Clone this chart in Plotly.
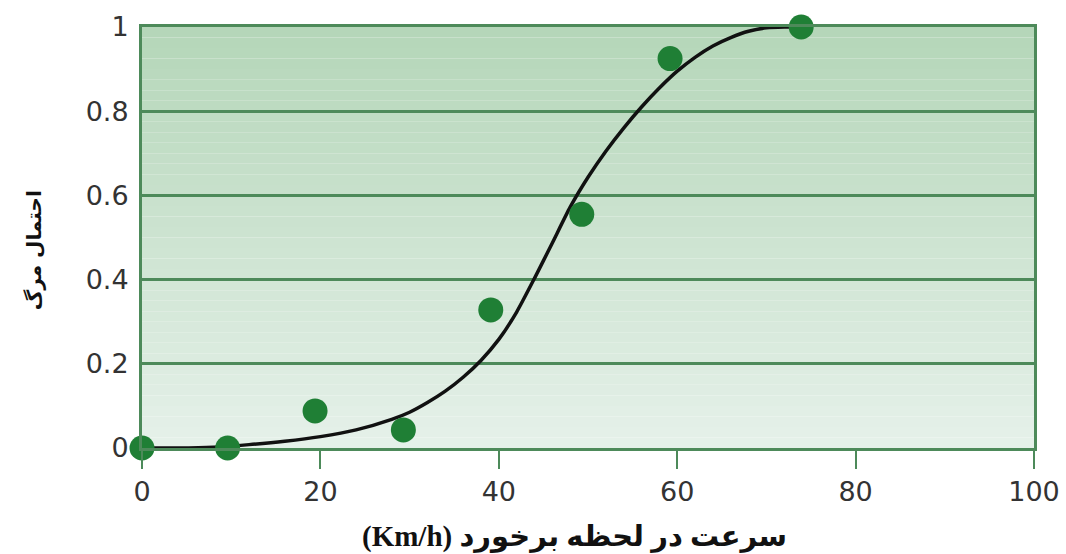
import plotly.graph_objects as go

# Observed data points (speed km/h, probability of death)
speed_pts = [0, 9.6, 19.4, 29.3, 39.1, 49.3, 59.2, 73.9]
prob_pts = [0.0, 0.0, 0.088, 0.043, 0.328, 0.555, 0.925, 1.0]

# Fitted curve
curve_x = [0, 4, 8, 12, 16, 20, 24, 28, 30, 32, 34, 36, 38, 40, 42, 44, 46,
           48, 50, 52, 54, 56, 58, 60, 62, 64, 66, 68, 70, 72, 74]
curve_y = [0.0, 0.0, 0.002, 0.008, 0.016, 0.027, 0.043, 0.068, 0.085,
           0.108, 0.135, 0.168, 0.208, 0.258, 0.323, 0.403, 0.487, 0.572,
           0.643, 0.705, 0.76, 0.81, 0.855, 0.895, 0.928, 0.955, 0.975,
           0.99, 0.998, 1.0, 1.0]

x_ticks = [0, 20, 40, 60, 80, 100]
y_ticks = [0, 0.2, 0.4, 0.6, 0.8, 1]
y_tick_text = ["0", "0.2", "0.4", "0.6", "0.8", "1"]

x_title = "(Km/h) سرعت در لحظه برخورد"
y_title = "احتمال مرگ"

GREEN_LINE = "#4d8a5a"

fig = go.Figure()

fig.add_trace(go.Scatter(
    x=curve_x, y=curve_y, mode="lines",
    line=dict(color="#111111", width=3.5, shape="spline", smoothing=0.6),
    cliponaxis=False, hoverinfo="skip", showlegend=False))

fig.add_trace(go.Scatter(
    x=speed_pts, y=prob_pts, mode="markers",
    marker=dict(color="#1f7f35", size=25, line=dict(width=0)),
    cliponaxis=False, showlegend=False))

# vertical gradient background of the plot area
n = 40
top = (180, 214, 184)
bot = (230, 241, 234)
shapes = []
for i in range(n):
    t = (i + 0.5) / n
    c = tuple(round(bot[k] + (top[k] - bot[k]) * t) for k in range(3))
    shapes.append(dict(type="rect", xref="paper", yref="paper",
                       x0=0, x1=1, y0=i / n, y1=(i + 1) / n,
                       fillcolor="rgb(%d,%d,%d)" % c, line=dict(width=0),
                       layer="below"))

fig.update_layout(
    width=1066, height=554,
    margin=dict(l=142, r=32, t=27, b=106),
    paper_bgcolor="white", plot_bgcolor="white",
    shapes=shapes,
    font=dict(family="DejaVu Sans", size=27, color="#333333"),
    annotations=[
        dict(text=x_title, xref="paper", yref="paper", x=0.485, y=-0.21,
             xanchor="center", yanchor="middle", showarrow=False,
             font=dict(family="Liberation Serif, DejaVu Sans", size=29,
                       color="#111111", weight="bold")),
        dict(text=y_title, xref="paper", yref="paper", x=-0.121, y=0.47,
             xanchor="center", yanchor="middle", showarrow=False,
             textangle=-90,
             font=dict(family="DejaVu Sans", size=20, color="#111111",
                       weight="bold")),
    ],
)

fig.update_xaxes(
    range=[0, 100], tickvals=x_ticks, showgrid=False, zeroline=False,
    showline=True, linecolor=GREEN_LINE, linewidth=3, mirror=True,
    ticks="outside", ticklen=18, tickwidth=2, tickcolor=GREEN_LINE,
    ticklabelstandoff=0, automargin=False, fixedrange=True)

fig.update_yaxes(
    range=[0, 1], tickvals=y_ticks, ticktext=y_tick_text,
    showgrid=True, gridcolor=GREEN_LINE, gridwidth=3, zeroline=False,
    showline=True, linecolor=GREEN_LINE, linewidth=3, mirror=True,
    ticks="", ticklabelstandoff=5, automargin=False, fixedrange=True)

fig.write_html(
    "out.html",
    config={"displayModeBar": False},
    post_script="document.body.style.margin='0';document.body.style.overflow='hidden';")
